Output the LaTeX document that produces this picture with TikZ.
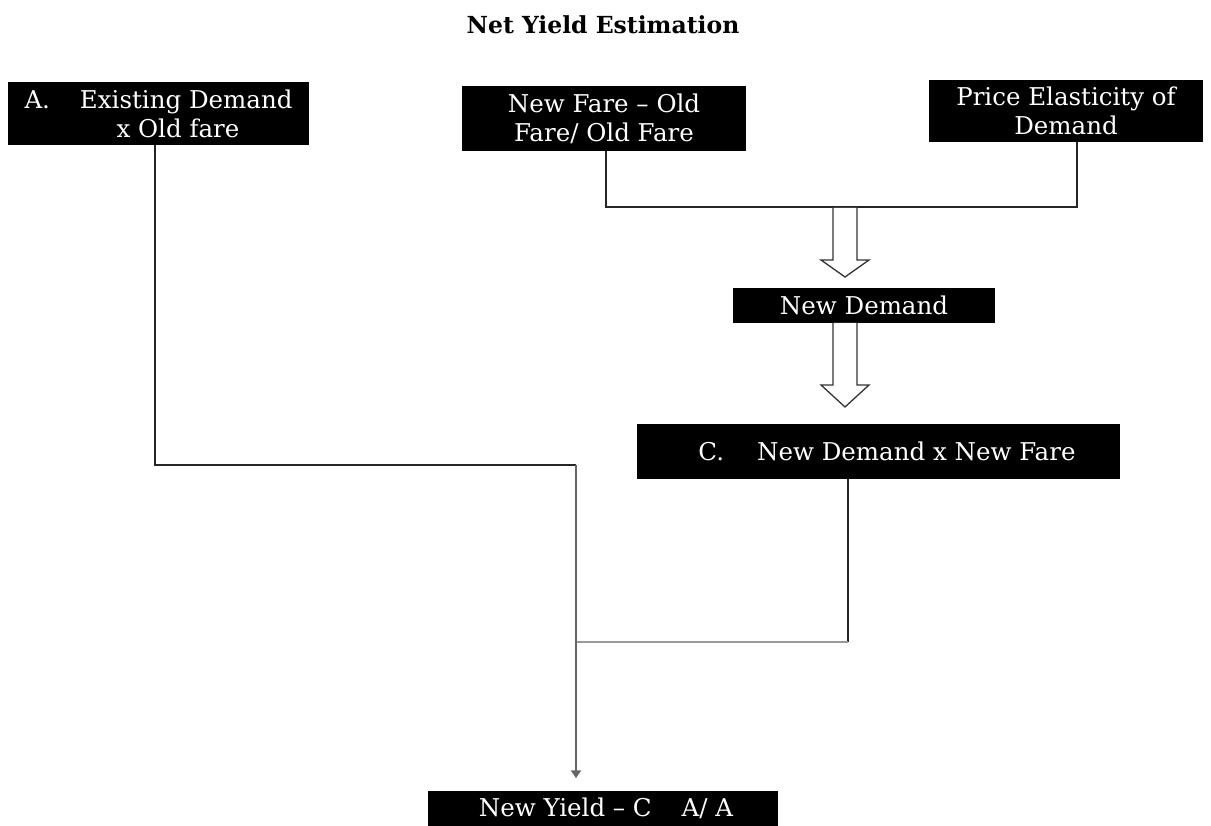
\documentclass[tikz,border=0pt]{standalone}
\usepackage{fontspec}
\setmainfont{DejaVu Serif}
\usetikzlibrary{arrows.meta}
\begin{document}
\begin{tikzpicture}[x=1pt,y=-1pt,
  box/.style={fill=black,text=white,inner sep=0pt,align=center,
    font=\fontsize{24.5}{29}\selectfont},
  link/.style={line width=1.8pt,black!85},
  faint/.style={line width=1.6pt,black!40},
  hollow/.style={draw=black!80,line width=1.3pt,fill=white,line join=miter}]
\useasboundingbox (0,0) rectangle (1211,826);

\node[font=\bfseries\fontsize{23.5}{26}\selectfont] (title) at (603,25) {Net Yield Estimation};

\node[box,minimum width=301pt,minimum height=63pt] (a) at (158.5,113.5)
  {A.\hspace{30pt}Existing Demand\\\hspace{39pt}x Old fare};
\node[box,minimum width=284pt,minimum height=65pt] (frac) at (604,118.5)
  {New Fare -- Old\\Fare/ Old Fare};
\node[box,minimum width=274pt,minimum height=62pt] (elast) at (1066,111)
  {Price Elasticity of\\Demand};
\node[box,minimum width=262pt,minimum height=35pt] (nd) at (864,305.5) {New Demand};
\node[box,minimum width=483pt,minimum height=55pt] (c) at (878.5,451.5)
  {\hspace{17pt}C.\hspace{33pt}New Demand x New Fare};
\node[box,minimum width=350pt,minimum height=35pt] (ny) at (603,808)
  {\hspace{6pt}New Yield -- C\hspace{30pt}A/ A};

% elbow joints of the connectors
\coordinate (fj) at (606,207);
\coordinate (ej) at (1077,207);
\coordinate (aj) at (155,465);
\coordinate (mj) at (576,465);
\coordinate (cj) at (848,642);
\coordinate (yj) at (576,642);

\draw[link] (frac.south -| fj) -- (fj) -- (ej) -- (elast.south -| ej);
\draw[link] (a.south -| aj) -- (aj) -- (mj);
\draw[link] (c.south -| cj) -- (cj);
\draw[faint] (cj) -- (yj);
\draw[line width=1.6pt,black!60,-{Triangle[width=10pt,length=8pt]}]
  (mj) -- ([yshift=12pt]ny.north -| mj);

% hollow block arrows into and out of the demand box
\draw[hollow] (833,208) -- (833,260) -- (821,260) -- (845,277) -- (869,260)
  -- (857,260) -- (857,208);
\draw[hollow] (833,323) -- (833,385) -- (821,385) -- (845,407) -- (869,385)
  -- (857,385) -- (857,323);
\end{tikzpicture}
\end{document}
